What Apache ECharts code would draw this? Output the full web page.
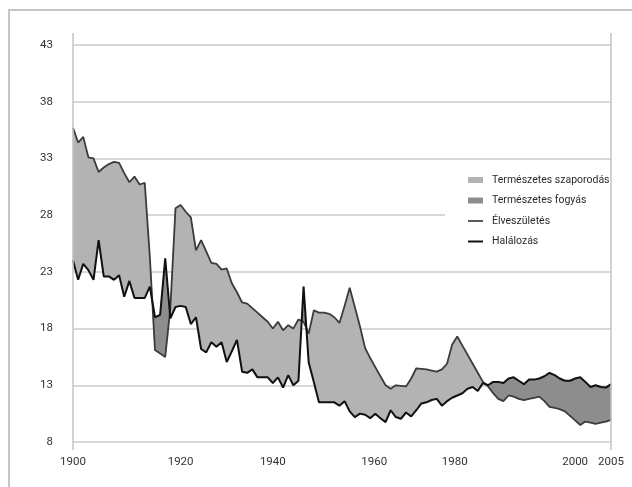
<!DOCTYPE html>
<html>
<head>
<meta charset="utf-8">
<script src="https://cdn.jsdelivr.net/npm/echarts@6/dist/echarts.min.js"></script>
<style>
  html, body { margin: 0; padding: 0; background: #fff; }
  #chart { width: 632px; height: 487px; }
</style>
</head>
<body>
<div id="chart"></div>
<script>
// ---- Data ----
const firstYear = 1900;
// Élveszületés (live births per 1000), 1900..2005
const births = [
  35.7, 34.4, 34.9, 33.1, 33.0, 31.8, 32.2, 32.5, 32.7, 32.6,   // 1900-1909
  31.7, 30.9, 31.4, 30.7, 30.85, 24.3, 16.1, 15.8, 15.5, 19.8,  // 1910-1919
  28.6, 28.9, 28.3, 27.8, 24.9, 25.8, 24.8, 23.8, 23.7, 23.2,   // 1920-1929
  23.3, 22.0, 21.2, 20.3, 20.2, 19.8, 19.4, 19.0, 18.6, 18.0,   // 1930-1939
  18.6, 17.85, 18.3, 18.0, 18.8, 18.6, 17.55, 19.6, 19.4, 19.4, // 1940-1949
  19.3, 19.0, 18.5, 20.0, 21.6, 19.9, 18.2, 16.3, 15.4, 14.6,   // 1950-1959
  13.8, 13.0, 12.7, 13.0, 12.95, 12.9, 13.6, 14.5, 14.45, 14.4, // 1960-1969
  14.3, 14.2, 14.4, 14.9, 16.6, 17.3, 16.5, 15.7, 14.9, 14.1,   // 1970-1979
  13.3, 12.9, 12.3, 11.8, 11.6, 12.1, 12.0, 11.8, 11.7, 11.8,   // 1980-1989
  11.9, 12.0, 11.6, 11.1, 11.0, 10.9, 10.7, 10.3, 9.9, 9.5,     // 1990-1999
  9.8, 9.7, 9.6, 9.7, 9.8, 9.95                                 // 2000-2005
];
// Halálozás (deaths per 1000), 1900..2005
const deaths = [
  24.0, 22.3, 23.7, 23.15, 22.3, 25.8, 22.6, 22.6, 22.3, 22.7,  // 1900-1909
  20.8, 22.2, 20.7, 20.7, 20.7, 21.7, 19.0, 19.2, 24.2, 18.9,   // 1910-1919
  19.9, 20.0, 19.9, 18.4, 19.0, 16.2, 15.9, 16.8, 16.4, 16.8,   // 1920-1929
  15.05, 16.0, 17.0, 14.2, 14.1, 14.4, 13.7, 13.7, 13.7, 13.2,  // 1930-1939
  13.7, 12.8, 13.9, 13.0, 13.4, 21.7, 15.0, 13.3, 11.5, 11.5,   // 1940-1949
  11.5, 11.5, 11.2, 11.6, 10.7, 10.2, 10.5, 10.4, 10.1, 10.5,   // 1950-1959
  10.1, 9.75, 10.8, 10.2, 10.05, 10.6, 10.25, 10.8, 11.4, 11.5, // 1960-1969
  11.7, 11.8, 11.2, 11.6, 11.9, 12.1, 12.3, 12.7, 12.85, 12.5,  // 1970-1979
  13.2, 13.0, 13.3, 13.3, 13.2, 13.6, 13.7, 13.4, 13.1, 13.5,   // 1980-1989
  13.5, 13.6, 13.8, 14.1, 13.9, 13.6, 13.4, 13.4, 13.6, 13.7,   // 1990-1999
  13.3, 12.85, 13.0, 12.85, 12.8, 13.1                          // 2000-2005
];
const years = births.map((_, i) => firstYear + i);

// Axis ticks / labels
const yMin = 8, yMax = 43, yStep = 5;
const xMin = 1900, xMax = 2005;
const xLabelPos  = [1900, 1921, 1939, 1958.8, 1974.5, 1998, 2005];
const xLabelText = ['1900', '1920', '1940', '1960', '1980', '2000', '2005'];

const seriesNames = ['Természetes szaporodás', 'Természetes fogyás', 'Élveszületés', 'Halálozás'];
const colors = { inc: '#b3b3b3', dec: '#8d8d8d', birth: '#3c3c3c', death: '#111111' };
const FONT = 'Roboto, "Liberation Sans Narrow", sans-serif';
const LINE_ICON = 'path://M0,0 H15 V2 H0 Z';

// Band between births and deaths, split at the crossing points of the two lines.
function bandRenderer(sign, color) {
  return function (params, api) {
    const polys = [];
    let upper = [], lower = [];
    let inRun = false;
    const flush = () => {
      if (upper.length > 1) polys.push(upper.concat(lower.slice().reverse()));
      upper = []; lower = []; inRun = false;
    };
    for (let i = 0; i < years.length; i++) {
      const diff = births[i] - deaths[i];
      const s = diff > 0 ? 1 : (diff < 0 ? -1 : 0);
      if (i > 0) {
        const pd = births[i - 1] - deaths[i - 1];
        if (pd * diff < 0) {
          const t = pd / (pd - diff);
          const cx = years[i - 1] + t * (years[i] - years[i - 1]);
          const cy = births[i - 1] + t * (births[i] - births[i - 1]);
          const c = api.coord([cx, cy]);
          if (inRun) { upper.push(c); lower.push(c); flush(); }
          else if (s === sign) { upper.push(c); lower.push(c); inRun = true; }
        }
      }
      if (s === sign || (s === 0 && inRun)) {
        upper.push(api.coord([years[i], births[i]]));
        lower.push(api.coord([years[i], deaths[i]]));
        inRun = true;
      }
    }
    flush();
    return {
      type: 'group',
      children: polys.map(p => ({
        type: 'polygon',
        shape: { points: p },
        style: { fill: color, stroke: color, lineWidth: 0.6 }
      }))
    };
  };
}

const chart = echarts.init(document.getElementById('chart'), null, { renderer: 'canvas' });

const option = {
  animation: false,
  backgroundColor: '#ffffff',
  textStyle: { fontFamily: FONT },
  grid: { left: 73, right: 21, top: 45, bottom: 45, containLabel: false, outerBoundsMode: 'none' },
  legend: {
    show: true,
    orient: 'vertical',
    left: 445,
    top: 165,
    padding: [9, 8, 12, 23],
    backgroundColor: '#ffffff',
    itemWidth: 15,
    itemHeight: 6,
    itemGap: 8.5,
    textStyle: { fontFamily: FONT, fontSize: 10.5, color: '#2a2a2a', lineHeight: 12, padding: [0, 0, 0, 4] },
    data: [
      { name: seriesNames[0], icon: 'rect' },
      { name: seriesNames[1], icon: 'rect' },
      { name: seriesNames[2], icon: LINE_ICON },
      { name: seriesNames[3], icon: LINE_ICON }
    ]
  },
  xAxis: {
    type: 'value',
    min: xMin,
    max: xMax,
    axisLine: { show: false },
    axisTick: { show: false },
    splitLine: { show: false },
    axisLabel: {
      customValues: xLabelPos,
      margin: 14,
      fontSize: 11.5,
      fontFamily: FONT,
      color: '#333',
      showMinLabel: true,
      showMaxLabel: true,
      hideOverlap: false,
      formatter: v => {
        const i = xLabelPos.findIndex(p => Math.abs(p - v) < 1e-6);
        return i >= 0 ? xLabelText[i] : '';
      }
    }
  },
  yAxis: {
    type: 'value',
    min: yMin,
    max: yMax,
    interval: yStep,
    axisLine: { show: false },
    axisTick: { show: false },
    splitLine: { show: true, lineStyle: { color: '#cbcbcb', width: 1.5 } },
    axisLabel: { margin: 20, fontSize: 11.5, fontFamily: FONT, color: '#333' }
  },
  series: [
    {
      name: seriesNames[0], type: 'custom', coordinateSystem: 'cartesian2d',
      data: [[xMin, yMin]], encode: { x: 0, y: 1 }, silent: true, z: 1,
      itemStyle: { color: colors.inc },
      renderItem: bandRenderer(1, colors.inc)
    },
    {
      name: seriesNames[1], type: 'custom', coordinateSystem: 'cartesian2d',
      data: [[xMin, yMin]], encode: { x: 0, y: 1 }, silent: true, z: 1,
      itemStyle: { color: colors.dec },
      renderItem: bandRenderer(-1, colors.dec)
    },
    {
      name: seriesNames[2], type: 'line', z: 3,
      data: years.map((y, i) => [y, births[i]]),
      symbol: 'none', showSymbol: false,
      itemStyle: { color: '#5a5a5a' },
      lineStyle: { color: colors.birth, width: 1.8 }
    },
    {
      name: seriesNames[3], type: 'line', z: 4,
      data: years.map((y, i) => [y, deaths[i]]),
      symbol: 'none', showSymbol: false,
      itemStyle: { color: colors.death },
      lineStyle: { color: colors.death, width: 2 }
    }
  ]
};
chart.setOption(option);

// Frame and the two vertical edge lines of the plot (positioned from the axes)
const pTL = chart.convertToPixel({ gridIndex: 0 }, [xMin, yMax]);
const pBR = chart.convertToPixel({ gridIndex: 0 }, [xMax, yMin]);
chart.setOption({
  graphic: [
    { type: 'polyline', silent: true, z: 0,
      shape: { points: [[9, 487], [9, 10], [632, 10]] },
      style: { stroke: '#c6c6c6', lineWidth: 2, fill: null } },
    { type: 'line', silent: true, z: 10,
      shape: { x1: pTL[0], y1: pTL[1] - 12, x2: pTL[0], y2: pBR[1] + 8 },
      style: { stroke: '#c3c3c3', lineWidth: 1.5 } },
    { type: 'line', silent: true, z: 10,
      shape: { x1: pBR[0], y1: pTL[1] - 12, x2: pBR[0], y2: pBR[1] + 8 },
      style: { stroke: '#c3c3c3', lineWidth: 1.5 } }
  ]
});
</script>
</body>
</html>
